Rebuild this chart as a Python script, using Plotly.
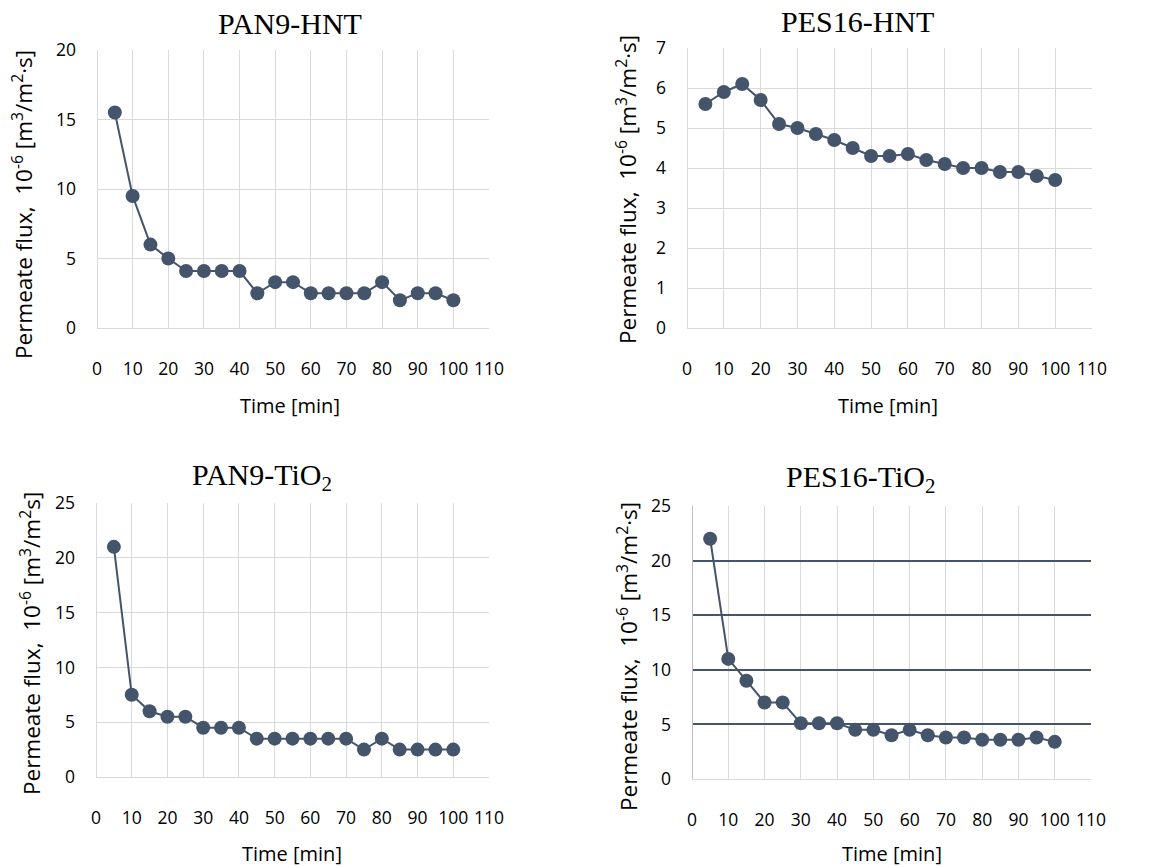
import plotly.graph_objects as go

W, H = 1171, 867

time_min = [5, 10, 15, 20, 25, 30, 35, 40, 45, 50, 55, 60, 65, 70, 75, 80, 85, 90, 95, 100]

pan9_hnt = [15.5, 9.5, 6.0, 5.0, 4.1, 4.1, 4.1, 4.1, 2.5, 3.3, 3.3, 2.5, 2.5, 2.5, 2.5, 3.3, 2.0, 2.5, 2.5, 2.0]
pes16_hnt = [5.6, 5.9, 6.1, 5.7, 5.1, 5.0, 4.85, 4.7, 4.5, 4.3, 4.3, 4.35, 4.2, 4.1, 4.0, 4.0, 3.9, 3.9, 3.8, 3.7]
pan9_tio2 = [21.0, 7.5, 6.0, 5.5, 5.5, 4.5, 4.5, 4.5, 3.5, 3.5, 3.5, 3.5, 3.5, 3.5, 2.5, 3.5, 2.5, 2.5, 2.5, 2.5]
pes16_tio2 = [22.0, 11.0, 9.0, 7.0, 7.0, 5.1, 5.1, 5.1, 4.5, 4.5, 4.0, 4.5, 4.0, 3.8, 3.8, 3.6, 3.6, 3.6, 3.8, 3.4]

titles = ["PAN9-HNT", "PES16-HNT", "PAN9-TiO<sub>2</sub>", "PES16-TiO<sub>2</sub>"]
ytitles = [
    "Permeate flux,\u00a0 10<sup>-6</sup> [m<sup>3</sup>/m<sup>2</sup>·s]",
    "Permeate flux,\u00a0 10<sup>-6</sup> [m<sup>3</sup>/m<sup>2</sup>·s]",
    "Permeate flux,\u00a0 10<sup>-6</sup> [m<sup>3</sup>/m<sup>2</sup>s]",
    "Permeate flux,\u00a0 10<sup>-6</sup> [m<sup>3</sup>/m<sup>2</sup>·s]",
]
xtitle = "Time [min]"
series = [pan9_hnt, pes16_hnt, pan9_tio2, pes16_tio2]
yranges = [(0, 20, 5), (0, 7, 1), (0, 25, 5), (0, 25, 5)]
xtick_vals = list(range(0, 111, 10))

# plot areas in pixels: (left, right, top, bottom)
boxes = [(97, 489, 50, 328), (687, 1092, 48, 328), (96, 489, 503, 777), (692, 1091, 506, 779)]
title_pos = [(290, 24), (857, 21), (262, 477), (860, 479)]
ytitle_pos = [(22, 205), (627, 190), (30, 644), (627, 657)]
xtitle_pos = [(290, 405), (888, 405), (292, 853), (892, 853)]

COL = "#44546A"
GRID = "#D9D9D9"
TICKFONT = dict(family="Open Sans", size=17.5, color="#000000")
LABELFONT = dict(family="Open Sans", size=20, color="#000000")
YLABELFONT = dict(family="Open Sans", size=22.5, color="#000000")

fig = go.Figure()
annotations = []
for i in range(4):
    l, r, t, b = boxes[i]
    xa = "xaxis" if i == 0 else f"xaxis{i+1}"
    ya = "yaxis" if i == 0 else f"yaxis{i+1}"
    xr = "x" if i == 0 else f"x{i+1}"
    yr = "y" if i == 0 else f"y{i+1}"
    fig.add_trace(go.Scatter(
        x=time_min, y=series[i], mode="lines+markers",
        line=dict(color=COL, width=2), marker=dict(color=COL, size=14),
        xaxis=xr, yaxis=yr, showlegend=False, cliponaxis=False,
    ))
    y0, y1, dy = yranges[i]
    ygrid = "#44546A" if i == 3 else GRID
    fig.update_layout(**{
        xa: dict(domain=[l / W, r / W], range=[0, 110], anchor=yr,
                 tickvals=xtick_vals, showgrid=True, gridcolor=GRID, gridwidth=1,
                 zeroline=True, zerolinecolor="#BFBFBF" if i == 3 else GRID, zerolinewidth=1,
                 showline=False, ticks="", ticklabelstandoff=28, automargin=False,
                 tickfont=TICKFONT, fixedrange=True),
        ya: dict(domain=[1 - b / H, 1 - t / H], range=[y0, y1], anchor=xr,
                 dtick=dy, tick0=0, showgrid=True, gridcolor=ygrid,
                 gridwidth=2 if i == 3 else 1,
                 zeroline=True, zerolinecolor=GRID, zerolinewidth=1,
                 showline=False, ticks="", ticklabelstandoff=20, automargin=False,
                 tickfont=TICKFONT, fixedrange=True),
    })
    tx, ty = title_pos[i]
    annotations.append(dict(text=titles[i], x=tx / W, y=1 - ty / H, xref="paper", yref="paper",
                            xanchor="center", yanchor="middle", showarrow=False,
                            font=dict(family="Liberation Serif", size=30, color="#000000")))
    ax_, ay_ = ytitle_pos[i]
    annotations.append(dict(text=ytitles[i], x=ax_ / W, y=1 - ay_ / H, xref="paper", yref="paper",
                            xanchor="center", yanchor="middle", showarrow=False, textangle=-90,
                            font=YLABELFONT))
    bx, by = xtitle_pos[i]
    annotations.append(dict(text=xtitle, x=bx / W, y=1 - by / H, xref="paper", yref="paper",
                            xanchor="center", yanchor="middle", showarrow=False,
                            font=LABELFONT))

fig.update_layout(
    template="none",
    width=W, height=H, margin=dict(l=0, r=0, t=0, b=0, pad=0, autoexpand=False),
    paper_bgcolor="white", plot_bgcolor="white",
    annotations=annotations,
)
fig.write_html("out.html", config={"displayModeBar": False},
               post_script="document.body.style.margin='0';document.body.style.overflow='hidden';")
